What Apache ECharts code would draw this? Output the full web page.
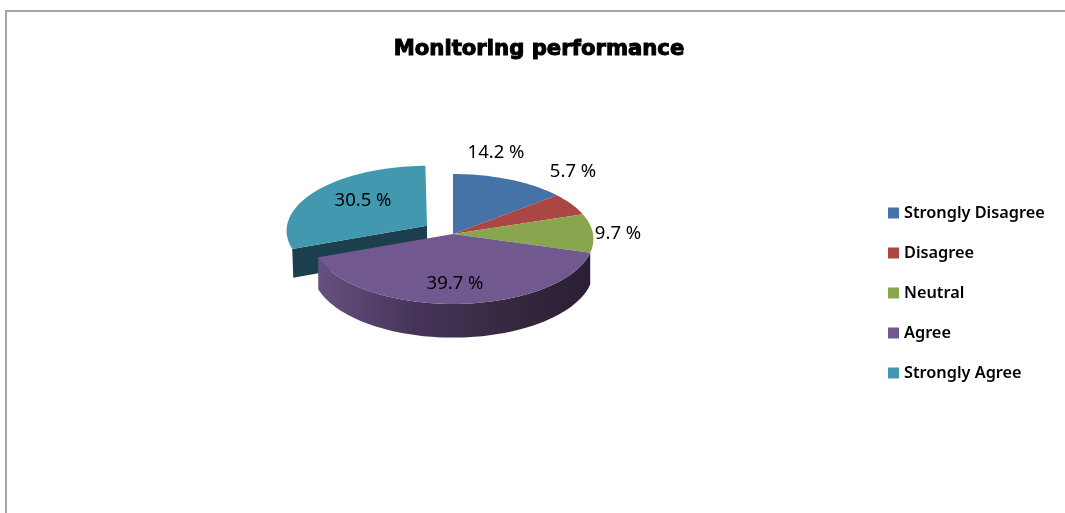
<!DOCTYPE html>
<html>
<head>
<meta charset="utf-8">
<style>
    html, body { margin: 0; padding: 0; background: #fff; }
    #chart { width: 1065px; height: 513px; }
</style>
<script src="https://cdn.jsdelivr.net/npm/echarts@6/dist/echarts.min.js"></script>
</head>
<body>
<div id="chart"></div>
<script>
const categories = ['Strongly Disagree', 'Disagree', 'Neutral', 'Agree', 'Strongly Agree'];
const percentValues = [14.2, 5.7, 9.7, 39.7, 30.5];
const sliceColors = ['#4572A7', '#AA4643', '#89A54E', '#71588F', '#4198AF'];
const explodeBy = [0, 0, 0, 0, 0.225];

// 假3D饼图的几何参数
const pie = { cx: 453, cy: 234, rx: 140, ry: 64.6, persp: 0.077, depth: 31, cutDepth: 28 };
const labelPos = [[496, 153], [573, 172], [618, 234], [455, 284], [363, 201]];
const font = '"Noto Sans", sans-serif';

const rad = d => d * Math.PI / 180;

function project(deg, ox, oy, drop) {
    const s = 1 / (1 + pie.persp * Math.cos(rad(deg)));
    return [
        pie.cx + ox + pie.rx * Math.sin(rad(deg)) * s,
        pie.cy + oy - pie.ry * Math.cos(rad(deg)) * s + drop * s
    ];
}

function arcPoints(from, to, ox, oy, drop) {
    const pts = [];
    const n = Math.max(2, Math.ceil(Math.abs(to - from) / 2));
    for (let i = 0; i <= n; i++) {
        pts.push(project(from + (to - from) * i / n, ox, oy, drop));
    }
    return pts;
}

let sum = 0;
const series = categories.map((name, idx) => {
    const start = sum * 3.6;
    sum += percentValues[idx];
    const end = sum * 3.6;
    const mid = (start + end) / 2;
    const ox = pie.rx * explodeBy[idx] * Math.sin(rad(mid));
    const oy = -pie.ry * explodeBy[idx] * Math.cos(rad(mid));
    return {
        name: name,
        type: 'custom',
        coordinateSystem: 'none',
        silent: true,
        z: idx === 4 ? 1 : 2,
        itemStyle: { color: sliceColors[idx] },
        data: [[percentValues[idx]]],
        renderItem: function (params, api) {
            const children = [];
            const apex = [pie.cx + ox, pie.cy + oy];

            // 切面（只有被拉出的扇区看得到）
            if (explodeBy[idx] > 0) {
                const a = project(start, ox, oy, 0);
                const b = project(start, ox + 1, oy, pie.cutDepth);
                children.push({
                    type: 'polygon',
                    shape: { points: [apex, a, b, [apex[0], apex[1] + pie.cutDepth]] },
                    style: { fill: '#1B3F4C' }
                });
            }

            // 外侧壁：原图只有紫色这块看得出来
            if (idx === 3) {
                const top = arcPoints(start, end, ox, oy, 0);
                const bottom = arcPoints(end, start, ox, oy, pie.depth);
                children.push({
                    type: 'polygon',
                    shape: { points: top.concat(bottom) },
                    style: {
                        fill: {
                            type: 'linear', x: 0, y: 0, x2: 1, y2: 0,
                            colorStops: [
                                { offset: 0, color: '#665080' },
                                { offset: 0.35, color: '#46355A' },
                                { offset: 0.7, color: '#35283F' },
                                { offset: 1, color: '#2A1F36' }
                            ]
                        }
                    }
                });
            }

            // 顶面
            children.push({
                type: 'polygon',
                shape: { points: [apex].concat(arcPoints(start, end, ox, oy, 0)) },
                style: { fill: sliceColors[idx] }
            });

            children.push({
                type: 'text',
                z2: 10,
                style: {
                    x: labelPos[idx][0],
                    y: labelPos[idx][1],
                    text: api.value(0).toFixed(1) + ' %',
                    fill: '#000',
                    font: '18.5px ' + font,
                    align: 'center',
                    verticalAlign: 'middle'
                }
            });
            return { type: 'group', children: children };
        }
    };
});

const chart = echarts.init(document.getElementById('chart'), null, { renderer: 'canvas' });
chart.setOption({
    animation: false,
    backgroundColor: '#fff',
    title: {
        text: 'Monitoring performance',
        left: 534,
        top: 44,
        textAlign: 'center',
        textVerticalAlign: 'middle',
        textStyle: {
            color: '#000',
            fontFamily: '"DejaVu Sans", sans-serif',
            fontWeight: 'bold',
            fontSize: 21.2,
            textBorderColor: '#000',
            textBorderWidth: 1
        }
    },
    legend: {
        orient: 'vertical',
        left: 883,
        top: 198,
        itemWidth: 11,
        itemHeight: 11,
        itemGap: 20,
        icon: 'rect',
        selectedMode: false,
        textStyle: { color: '#000', fontFamily: font, fontWeight: 600, fontSize: 16.3, lineHeight: 20, height: 20 },
        data: categories
    },
    graphic: [{
        type: 'rect',
        silent: true,
        shape: { x: 6, y: 11, width: 1200, height: 700 },
        style: { fill: 'none', stroke: '#A6A6A6', lineWidth: 2 }
    }],
    series: series
});
</script>
</body>
</html>
